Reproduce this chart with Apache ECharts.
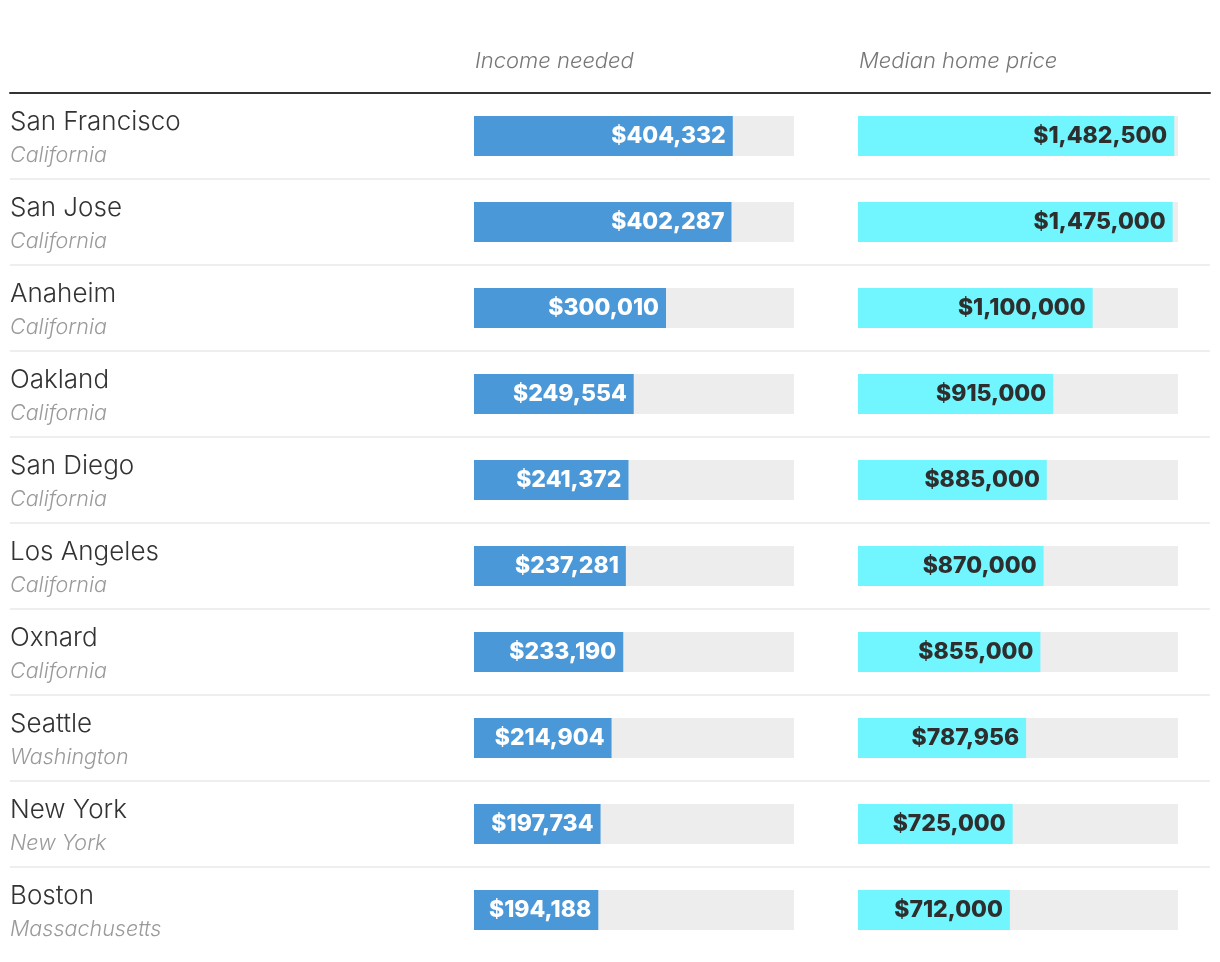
<!DOCTYPE html>
<html>
<head>
<meta charset="utf-8">
<script src="https://cdn.jsdelivr.net/npm/echarts@6/dist/echarts.min.js"></script>
<style>
html,body{margin:0;padding:0;background:#fff;}
#chart{width:1220px;height:962px;}
</style>
</head>
<body>
<div id="chart"></div>
<script>
const cities = ['San Francisco','San Jose','Anaheim','Oakland','San Diego','Los Angeles','Oxnard','Seattle','New York','Boston'];
const states = ['California','California','California','California','California','California','California','Washington','New York','Massachusetts'];
const incomeNeeded = [404332,402287,300010,249554,241372,237281,233190,214904,197734,194188];
const medianPrice = [1482500,1475000,1100000,915000,885000,870000,855000,787956,725000,712000];
const headers = ['Income needed','Median home price'];

const fmt = v => '$' + v.toLocaleString('en-US');
const headerStyle = {fontFamily:'Inter', fontStyle:'italic', fontWeight:300, fontSize:22, color:'#777777'};
const valueFont = {fontFamily:'Inter', fontWeight:800, fontSize:23};

const chart = echarts.init(document.getElementById('chart'), null, {renderer:'canvas'});
chart.setOption({
  animation:false,
  backgroundColor:'#ffffff',
  title:[
    {text:headers[0], left:475, top:50, padding:0, textStyle:headerStyle},
    {text:headers[1], left:859, top:50, padding:0, textStyle:headerStyle}
  ],
  grid:[
    {left:474, top:93, width:320, height:860},
    {left:858, top:93, width:320, height:860},
    {left:10, top:93, width:1200, height:774}
  ],
  xAxis:[
    {gridIndex:0, type:'value', min:0, max:500000, show:false},
    {gridIndex:1, type:'value', min:0, max:1500000, show:false},
    {gridIndex:2, type:'value', position:'top', min:0, max:1,
     axisLine:{show:true, lineStyle:{color:'#333333', width:2}},
     axisTick:{show:false}, axisLabel:{show:false}, splitLine:{show:false}}
  ],
  yAxis:[
    {gridIndex:0, type:'category', inverse:true, data:cities,
     axisLine:{show:false}, axisTick:{show:false}, splitLine:{show:false},
     axisLabel:{interval:0, margin:464, align:'left', padding:[8,0,0,0],
       formatter:(v,i)=>'{c|'+v+'}\n{s|'+states[i]+'}',
       rich:{
         c:{fontFamily:'Inter', fontWeight:300, fontSize:26, color:'#333333', lineHeight:32},
         s:{fontFamily:'Inter', fontStyle:'italic', fontWeight:300, fontSize:21.5, color:'#9a9a9a', lineHeight:36}
       }}},
    {gridIndex:1, type:'category', inverse:true, data:cities, show:false},
    {gridIndex:2, type:'category', inverse:true, data:cities.slice(0,9),
     axisLine:{show:false}, axisTick:{show:false}, axisLabel:{show:false},
     splitLine:{show:true, lineStyle:{color:'#eeeeee', width:2}}}
  ],
  series:[
    {type:'bar', xAxisIndex:0, yAxisIndex:0, data:incomeNeeded, barWidth:40,
     itemStyle:{color:'#4a98d8'},
     showBackground:true, backgroundStyle:{color:'#ededed'},
     label:Object.assign({show:true, position:'insideRight', distance:7, color:'#ffffff', formatter:p=>fmt(p.value)}, valueFont)},
    {type:'bar', xAxisIndex:1, yAxisIndex:1, data:medianPrice, barWidth:40,
     itemStyle:{color:'#71f5fe'},
     showBackground:true, backgroundStyle:{color:'#ededed'},
     label:Object.assign({show:true, position:'insideRight', distance:7, color:'#2e2e2e', formatter:p=>fmt(p.value)}, valueFont)}
  ]
});
</script>
</body>
</html>
